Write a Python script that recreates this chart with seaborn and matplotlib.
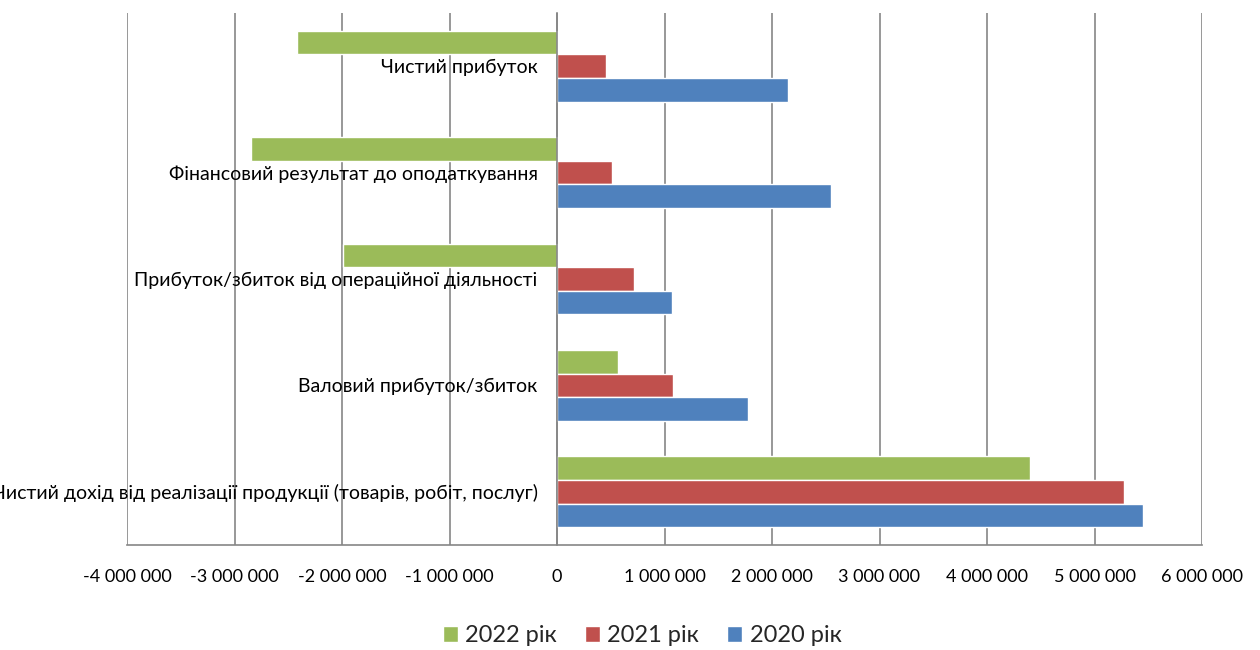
import matplotlib
matplotlib.use("Agg")
import matplotlib.pyplot as plt
from matplotlib.ticker import FixedLocator, FuncFormatter
import numpy as np
import pandas as pd
import seaborn as sns

# Financial indicators (UAH), listed top to bottom
categories = [
    "Чистий прибуток",
    "Фінансовий результат до оподаткування",
    "Прибуток/збиток від операційної діяльності",
    "Валовий прибуток/збиток",
    "Чистий дохід від реалізації продукції (товарів, робіт, послуг)",
]
years = ["2022 рік", "2021 рік", "2020 рік"]
values_2022 = [-2420000, -2850000, -1990000, 570000, 4400000]
values_2021 = [455000, 510000, 715000, 1080000, 5275000]
values_2020 = [2145000, 2550000, 1070000, 1780000, 5450000]
x_ticks = list(range(-4000000, 6000001, 1000000))

palette = {"2022 рік": "#9BBB59", "2021 рік": "#C0504D", "2020 рік": "#4F81BD"}

df = pd.DataFrame({
    "category": categories * 3,
    "year": [years[0]] * 5 + [years[1]] * 5 + [years[2]] * 5,
    "value": values_2022 + values_2021 + values_2020,
})

sns.set_style("white")
plt.rcParams["font.family"] = ["Lato", "DejaVu Sans"]

fig = plt.figure(figsize=(12.6, 6.5), dpi=100)
ax = fig.add_axes([127 / 1260, 1 - 545 / 650, (1202 - 127) / 1260, (545 - 13) / 650])

sns.barplot(data=df, x="value", y="category", hue="year", order=categories,
            hue_order=years, palette=palette, orient="h", width=0.665,
            saturation=1, ax=ax, legend=True)

grid_color = "#868686"
ax.set_xlim(x_ticks[0], x_ticks[-1])
ax.set_ylim(len(categories) - 0.5, -0.5)
ax.set_axisbelow(True)
ax.set_xticks(x_ticks)
ax.xaxis.set_major_formatter(FuncFormatter(lambda v, p: f"{int(v):,}".replace(",", " ")))
ax.grid(axis="x", color=grid_color, linewidth=1.2)
ax.grid(axis="y", visible=False)

for s in ["top", "right"]:
    ax.spines[s].set_visible(False)
ax.spines["left"].set_position(("data", 0))
for s in ["left", "bottom"]:
    ax.spines[s].set_color(grid_color)
    ax.spines[s].set_linewidth(1.2)

ax.tick_params(axis="x", which="major", direction="out", length=5, width=1.2,
               color=grid_color, labelsize=13, pad=12, labelcolor="black")
ax.tick_params(axis="y", which="major", length=0, pad=14, labelsize=14, labelcolor="black")
ax.yaxis.set_minor_locator(FixedLocator(np.arange(-0.5, len(categories), 1.0)))
ax.tick_params(axis="y", which="minor", direction="out", length=5, width=1.2, color=grid_color)
ax.set_xlabel("")
ax.set_ylabel("")

handles, labels = ax.get_legend_handles_labels()
ax.legend_.remove()
fig.legend(handles, labels, loc="center", bbox_to_anchor=(642 / 1260, 1 - 636 / 650),
           ncol=3, frameon=False, fontsize=17, handlelength=0.64, handleheight=0.64,
           handletextpad=0.3, columnspacing=1.2)

fig.savefig("out.png", dpi=100)
